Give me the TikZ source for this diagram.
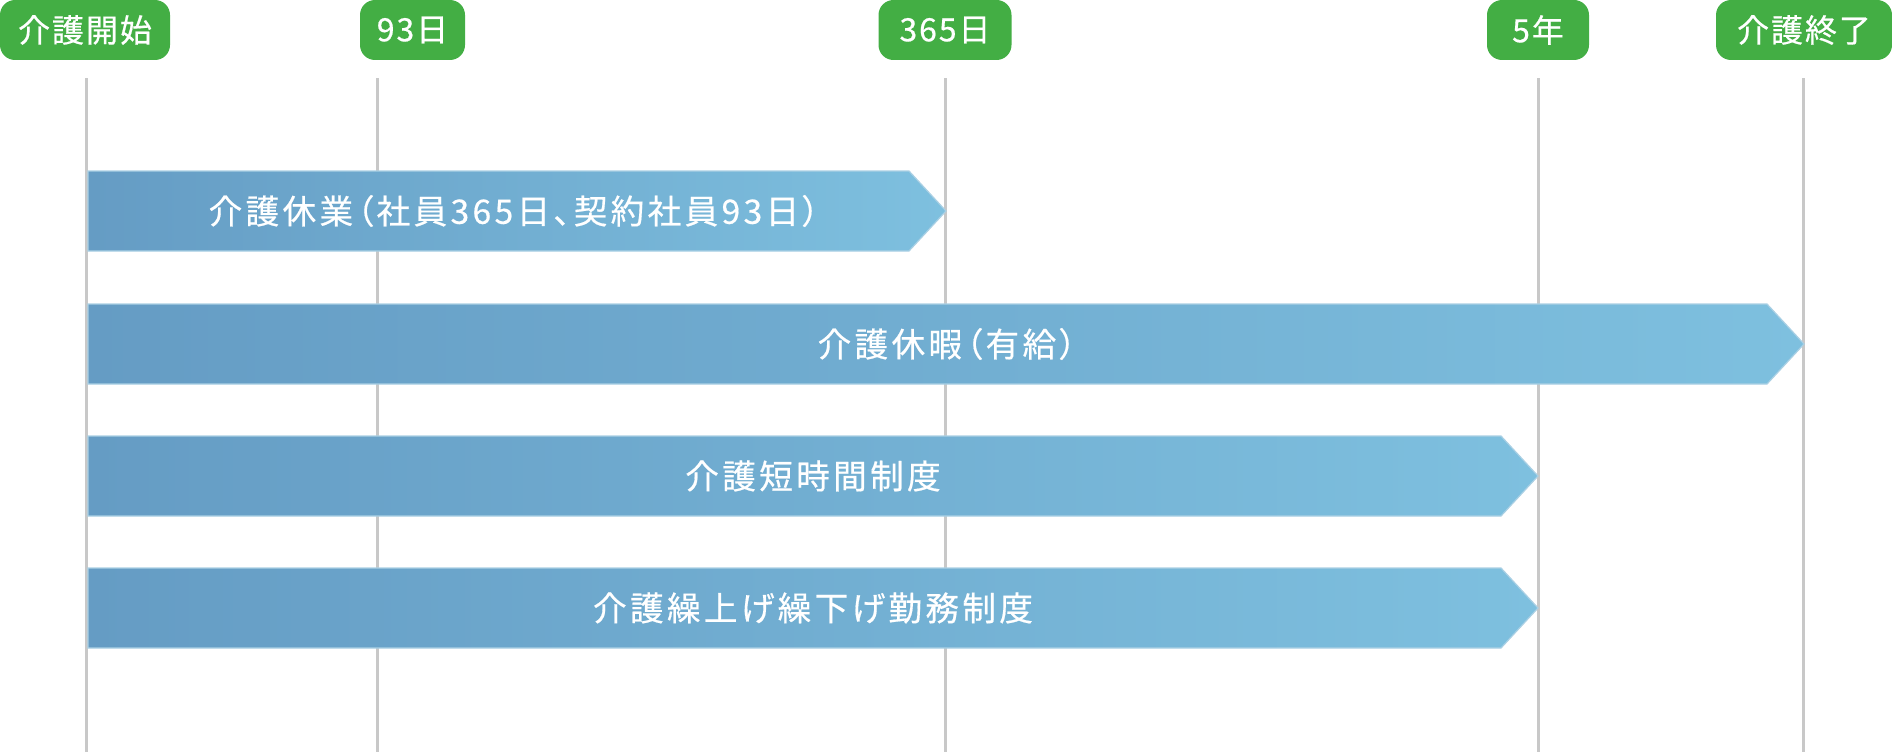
\documentclass[tikz,border=0pt]{standalone}
\usepackage{fontspec}
\newfontfamily\jp[LetterSpace=10,RawFeature={+palt},FakeBold=0.5]{Noto Sans CJK JP}
\newfontfamily\jplabel[LetterSpace=6,FakeBold=0.5]{Noto Sans CJK JP}
\definecolor{pillgreen}{RGB}{67,174,68}
\definecolor{gridgray}{RGB}{200,200,200}
\definecolor{barleft}{RGB}{101,156,196}
\definecolor{barright}{RGB}{126,192,223}
\definecolor{baredge}{RGB}{170,208,228}
\tikzset{
  pill/.style={fill=pillgreen, rounded corners=15pt, text=white, font=\jplabel\fontsize{32}{32}\selectfont, minimum height=60pt, inner sep=0pt, anchor=center},
  gridline/.style={draw=gridgray, line width=3pt},
  bar/.style={left color=barleft, right color=barright, draw=baredge, line width=1.2pt},
  bartext/.style={text=white, font=\jp\fontsize{33.6}{33.6}\selectfont, inner sep=0pt, anchor=center}
}
\begin{document}
\begin{tikzpicture}[x=1pt,y=-1pt]
\useasboundingbox (0,0) rectangle (1892,752);
% pills
\node[pill, minimum width=170pt] (p0) at (85,30) {介護開始};
\node[pill, minimum width=105pt] (p1) at (412.5,30) {93日};
\node[pill, minimum width=133pt] (p2) at (945,30) {365日};
\node[pill, minimum width=102pt] (p3) at (1538,30) {5年};
\node[pill, minimum width=176pt] (p4) at (1804,30) {介護終了};
% grid lines
\coordinate (t0) at (86,78);   \coordinate (b0) at (86,752);
\coordinate (t1) at (377,78);  \coordinate (b1) at (377,752);
\coordinate (t2) at (945,78);  \coordinate (b2) at (945,752);
\coordinate (t3) at (1538,78); \coordinate (b3) at (1538,752);
\coordinate (t4) at (1803,78); \coordinate (b4) at (1803,752);
\foreach \i in {0,...,4} { \draw[gridline] (t\i) -- (b\i); }
% bars
\path[bar] (88,171) -- (909,171) -- (946,211) -- (909,251) -- (88,251) -- cycle;
\node[bartext] (a1) at (514,211) {介護休業（社員365日、契約社員93日）};
\path[bar] (88,304) -- (1767,304) -- (1804,344) -- (1767,384) -- (88,384) -- cycle;
\node[bartext] (a2) at (947,344) {介護休暇（有給）};
\path[bar] (88,436) -- (1501,436) -- (1538,476) -- (1501,516) -- (88,516) -- cycle;
\node[bartext] (a3) at (813,476) {介護短時間制度};
\path[bar] (88,568) -- (1501,568) -- (1538,608) -- (1501,648) -- (88,648) -- cycle;
\node[bartext] (a4) at (813,608) {介護繰上げ繰下げ勤務制度};
\end{tikzpicture}
\end{document}
